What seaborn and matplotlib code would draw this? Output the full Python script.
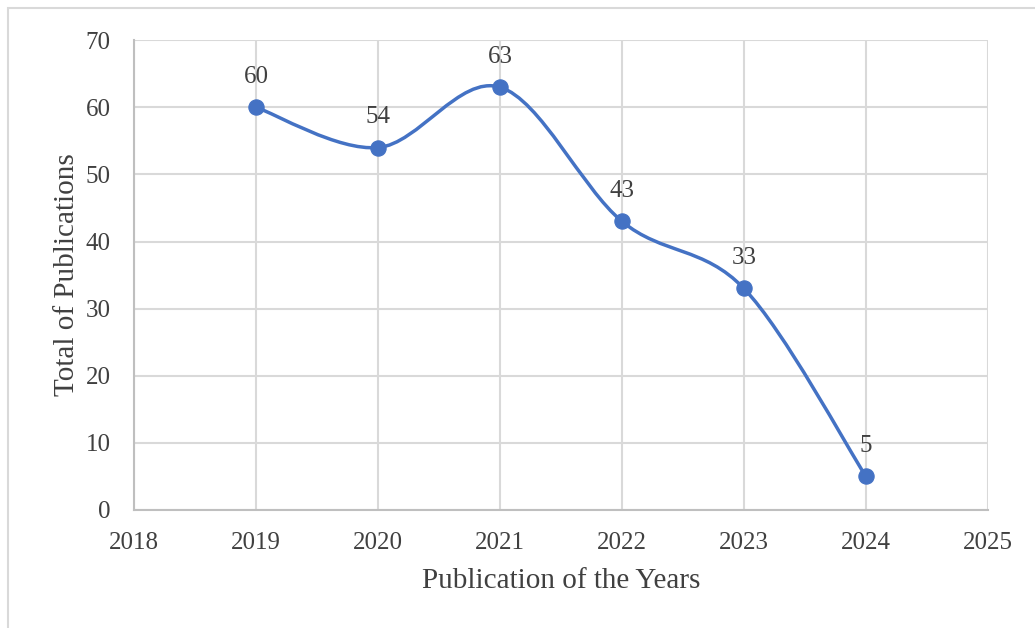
import matplotlib
matplotlib.use("Agg")
import matplotlib.pyplot as plt
from matplotlib.path import Path
from matplotlib.patches import PathPatch, Rectangle
import seaborn as sns
import pandas as pd

years = [2019, 2020, 2021, 2022, 2023, 2024]
publications = [60, 54, 63, 43, 33, 5]
x_ticks = [2018, 2019, 2020, 2021, 2022, 2023, 2024, 2025]
y_ticks = [0, 10, 20, 30, 40, 50, 60, 70]

df = pd.DataFrame({"year": years, "total": publications})

sns.set_style("white")
plt.rcParams["font.family"] = ["Liberation Serif", "DejaVu Serif"]

blue = "#4472C4"
fig = plt.figure(figsize=(10.35, 6.28), dpi=100)
ax = fig.add_axes([0.1295, 0.188, 0.825, 0.748])

# smooth line like excel (bezier through the points)
verts = [(years[0], publications[0])]
codes = [Path.MOVETO]
n = len(years)
for i in range(n - 1):
    x0, y0 = years[max(i - 1, 0)], publications[max(i - 1, 0)]
    x1, y1 = years[i], publications[i]
    x2, y2 = years[i + 1], publications[i + 1]
    x3, y3 = years[min(i + 2, n - 1)], publications[min(i + 2, n - 1)]
    c1 = (x1 + (x2 - x0) / 6, y1 + (y2 - y0) / 6)
    c2 = (x2 - (x3 - x1) / 6, y2 - (y3 - y1) / 6)
    verts += [c1, c2, (x2, y2)]
    codes += [Path.CURVE4] * 3
ax.add_patch(PathPatch(Path(verts, codes), fill=False, edgecolor=blue, lw=2.5, zorder=3))

sns.scatterplot(data=df, x="year", y="total", ax=ax, color=blue, s=120,
                edgecolor=blue, zorder=4, legend=False)

for x, y in zip(years, publications):
    ax.annotate(str(y), (x, y), xytext=(0, 14), textcoords="offset points",
                ha="center", va="bottom", fontsize=18, color="#404040")

ax.set_xlim(2018, 2025)
ax.set_ylim(0, 70)
ax.set_xticks(x_ticks)
ax.set_yticks(y_ticks)
ax.grid(True, color="#d9d9d9", lw=1.5)
ax.set_axisbelow(True)
for s in ["top", "right"]:
    ax.spines[s].set_visible(False)
for s in ["left", "bottom"]:
    ax.spines[s].set_color("#bfbfbf")
    ax.spines[s].set_linewidth(1.5)
ax.tick_params(axis="x", length=0, labelsize=18, colors="#404040", pad=16)
ax.tick_params(axis="y", length=0, labelsize=18, colors="#404040", pad=17)
ax.set_xlabel("Publication of the Years", fontsize=21, color="#404040", labelpad=10)
ax.set_ylabel("Total of Publications", fontsize=21, color="#404040", labelpad=4)

fig.patches.append(Rectangle((8 / 1035, -0.1), 1.2, 1 - 8 / 628 + 0.1, transform=fig.transFigure,
                             fill=False, edgecolor="#d9d9d9", lw=1.5))

fig.savefig("out.png", dpi=100)
